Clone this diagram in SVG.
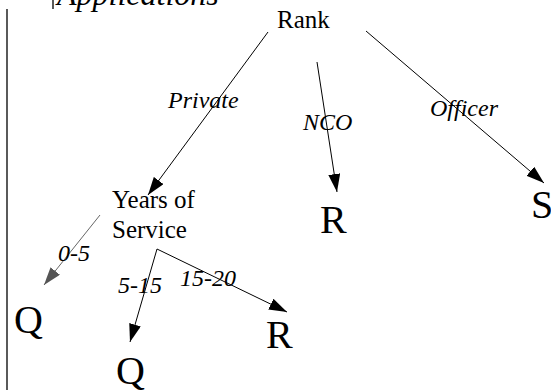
<svg xmlns="http://www.w3.org/2000/svg" width="551" height="390" viewBox="0 0 551 390">
  <style>
    text { font-family: 'Liberation Serif', 'Times New Roman', 'DejaVu Serif', serif; fill: #000; }
    .node { font-size: 25px; }
    .leaf { font-size: 40px; }
    .lbl { font-size: 24px; font-style: italic; }
    .edge { stroke: #000; stroke-width: 1; fill: none; marker-end: url(#arrow); }
    .edge.soft { stroke: #666; marker-end: url(#arrowGray); }
    .rule { stroke: #000; stroke-width: 1.3; }
  </style>
  <defs>
    <marker id="arrow" markerUnits="userSpaceOnUse" viewBox="0 0 18 12" refX="18" refY="6" markerWidth="18" markerHeight="12" orient="auto">
      <path d="M0,0 L18,6 L0,12 z" fill="#000"/>
    </marker>
    <marker id="arrowGray" markerUnits="userSpaceOnUse" viewBox="0 0 18 12" refX="18" refY="6" markerWidth="18" markerHeight="12" orient="auto">
      <path d="M0,0 L18,6 L0,12 z" fill="#555"/>
    </marker>
  </defs>
  <rect width="551" height="390" fill="#fff"/>

  <!-- page margin rules and running heading -->
  <g id="page">
    <line class="rule" x1="7" y1="9" x2="7" y2="390"/>
    <line class="rule" x1="53" y1="0" x2="53" y2="9"/>
    <text class="lbl" x="57" y="5" font-family="Liberation Serif" style="font-size:32px">Applications</text>
  </g>

  <!-- connectors -->
  <g id="connectors">
    <line class="edge" x1="268" y1="32" x2="148" y2="195"/>
    <line class="edge" x1="317" y1="62" x2="337" y2="192"/>
    <line class="edge" x1="366" y1="31" x2="544" y2="183"/>
    <line class="edge soft" x1="100" y1="215" x2="44" y2="285"/>
    <line class="edge" x1="157" y1="249" x2="130" y2="342"/>
    <line class="edge" x1="157" y1="249" x2="287" y2="312"/>
  </g>

  <!-- edge labels -->
  <g id="edge-labels" font-family="Liberation Serif">
    <text class="lbl" x="168" y="108">Private</text>
    <text class="lbl" x="303" y="130">NCO</text>
    <text class="lbl" x="430" y="116">Officer</text>
    <text class="lbl" x="58" y="261">0-5</text>
    <text class="lbl" x="118" y="293">5-15</text>
    <text class="lbl" x="180" y="286">15-20</text>
  </g>

  <g id="rank"><text class="node" x="277" y="28">Rank</text></g>
  <g id="years">
    <text class="node" x="112" y="208">Years of</text>
    <text class="node" x="112" y="238">Service</text>
  </g>
  <g id="r-nco"><text class="leaf" x="320" y="233">R</text></g>
  <g id="s-officer"><text class="leaf" x="531" y="218">S</text></g>
  <g id="q-0-5"><text class="leaf" x="14" y="333">Q</text></g>
  <g id="q-5-15"><text class="leaf" x="116" y="384">Q</text></g>
  <g id="r-15-20"><text class="leaf" x="266" y="348">R</text></g>
</svg>
